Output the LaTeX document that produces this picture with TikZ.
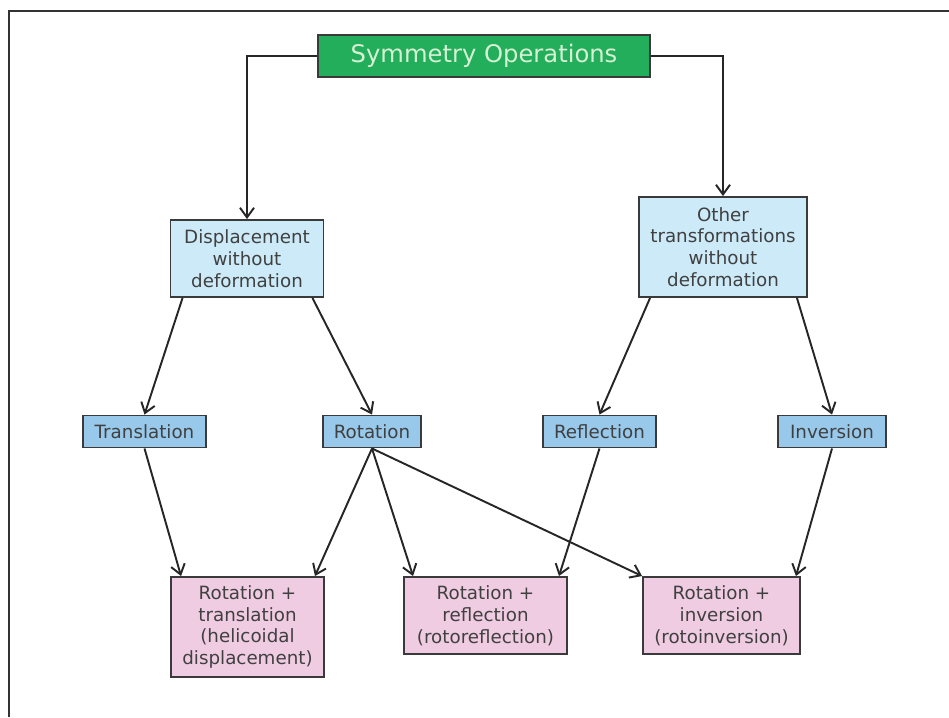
\documentclass[tikz,border=0pt]{standalone}
\usepackage{fontspec}
\setmainfont{DejaVu Sans}
\usepackage{xcolor}
\usepackage{tikz}
\usetikzlibrary{arrows.meta, positioning, calc}
\definecolor{opsgreen}{RGB}{34,174,90}
\definecolor{opstext}{RGB}{214,240,212}
\definecolor{groupblue}{RGB}{204,234,248}
\definecolor{kindblue}{RGB}{152,200,234}
\definecolor{combopink}{RGB}{240,204,226}
\definecolor{boxline}{RGB}{58,58,58}
\definecolor{boxtext}{RGB}{64,64,64}
\tikzset{%
	box/.style={draw=boxline, line width=1.1pt, rectangle, inner sep=0mm, align=center,%
		text=boxtext, font=\fontsize{10.4}{12.4}\selectfont},
	title/.style={box, fill=opsgreen, text=opstext, minimum width=6.64cm, minimum height=0.84cm,%
		font=\fontsize{13.8}{16}\selectfont},
	group/.style={box, fill=groupblue, minimum height=1.54cm},
	kind/.style={box, fill=kindblue, minimum height=0.64cm},
	combo/.style={box, fill=combopink, minimum height=1.54cm},
	sel/.style={-{Straight Barb[length=5.5pt,width=8pt]}, line width=1.1pt, draw=black!85},
	frame/.style={draw=black!80, line width=1.2pt}
}
\begin{document}
\begin{tikzpicture}[x=0.02cm, y=-0.02cm]
	\useasboundingbox (0,0) rectangle (949,717);
	\draw[frame] (9,717) -- (9,11) -- (949,11);

	\node[title] (ops) at (484,56) {Symmetry Operations};
	\node[group, minimum width=3.06cm] (disp) at (247,258.5) {Displacement\\without\\deformation};
	\node[group, minimum width=3.36cm, minimum height=2.0cm] (other) at (723,247) {Other\\transformations\\without\\deformation};

	\node[kind, minimum width=2.46cm] (trans) at (144.5,431.5) {Translation};
	\node[kind, minimum width=1.96cm] (rot) at (372,431.5) {Rotation};
	\node[kind, minimum width=2.26cm] (refl) at (599.5,431.5) {Reflection};
	\node[kind, minimum width=2.16cm] (inv) at (832,431.5) {Inversion};

	\node[combo, minimum width=3.06cm, minimum height=2.0cm] (helic) at (247.5,627) {Rotation +\\translation\\(helicoidal\\displacement)};
	\node[combo, minimum width=3.26cm] (rotrefl) at (485.5,615.5) {Rotation +\\reflection\\(rotoreflection)};
	\node[combo, minimum width=3.14cm] (rotinv) at (721.5,615.5) {Rotation +\\inversion\\(rotoinversion)};

	\draw[sel] (ops.west) -| (disp.north);
	\draw[sel] (ops.east) -| (other.north);
	\draw[sel] ([xshift=0.26cm]disp.south west) to (trans.north);
	\draw[sel] ([xshift=-0.24cm]disp.south east) to (rot.north);
	\draw[sel] ([xshift=0.24cm]other.south west) to (refl.north);
	\draw[sel] ([xshift=-0.22cm]other.south east) to (inv.north);
	\draw[sel] (trans.south) to ([xshift=0.22cm]helic.north west);
	\draw[sel] (rot.south) to ([xshift=-0.2cm]helic.north east);
	\draw[sel] (rot.south) to ([xshift=0.2cm]rotrefl.north west);
	\draw[sel] (rot.south) to (rotinv.north west);
	\draw[sel] (refl.south) to ([xshift=-0.18cm]rotrefl.north east);
	\draw[sel] (inv.south) to ([xshift=-0.1cm]rotinv.north east);
\end{tikzpicture}
\end{document}
